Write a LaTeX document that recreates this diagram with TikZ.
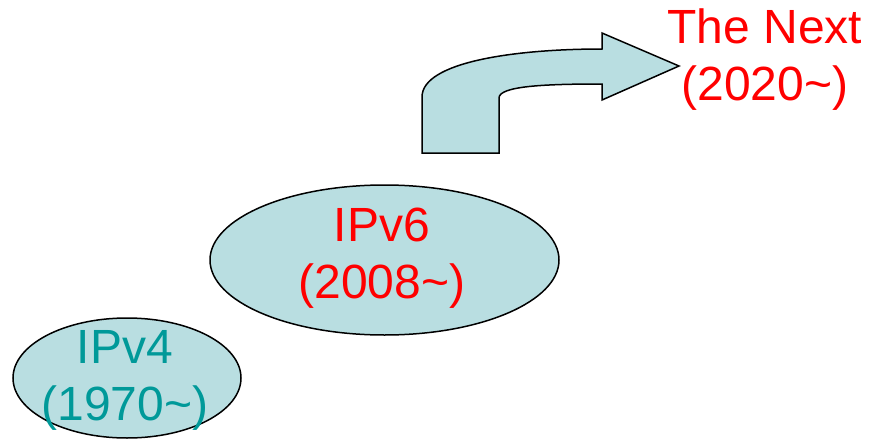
\documentclass[tikz,border=0pt]{standalone}
\usepackage{fontspec}
\setmainfont{Liberation Sans}
\usetikzlibrary{shapes.geometric}
\definecolor{shapefill}{RGB}{185,222,225}
\definecolor{oldteal}{RGB}{0,153,153}
\begin{document}
\begin{tikzpicture}[x=1pt,y=-1pt,
  era/.style={ellipse, draw=black, line width=1.5pt, fill=shapefill, inner sep=0pt},
  label/.style={align=center, anchor=base, inner sep=0pt,
    font=\fontsize{48}{57}\selectfont}]
  \useasboundingbox (0,0) rectangle (873,439);

  % era ellipses
  \node[era, minimum width=228pt, minimum height=120pt] (v4) at (127,378) {};
  \node[era, minimum width=349pt, minimum height=150pt] (v6) at (384.5,260) {};

  % bent arrow towards the next generation
  \draw[line width=1.5pt, fill=shapefill, line join=miter]
    (422,153) -- (422,97)
    .. controls (422,62) and (515,49) .. (602,49)
    -- (602,33) -- (679,66) -- (602,100) -- (602,84)
    .. controls (545,84) and (499,86) .. (499,98)
    -- (499,153) -- cycle;

  % labels (base anchor sits on the last line)
  \node[label, text=oldteal] (t4) at (125,420) {IPv4\\(1970\textasciitilde)};
  \node[label, text=red] (t6) at (382,298) {IPv6\\(2008\textasciitilde)};
  \node[label, text=red] (tn) at (765,100) {The Next\\(2020\textasciitilde)};
\end{tikzpicture}
\end{document}
